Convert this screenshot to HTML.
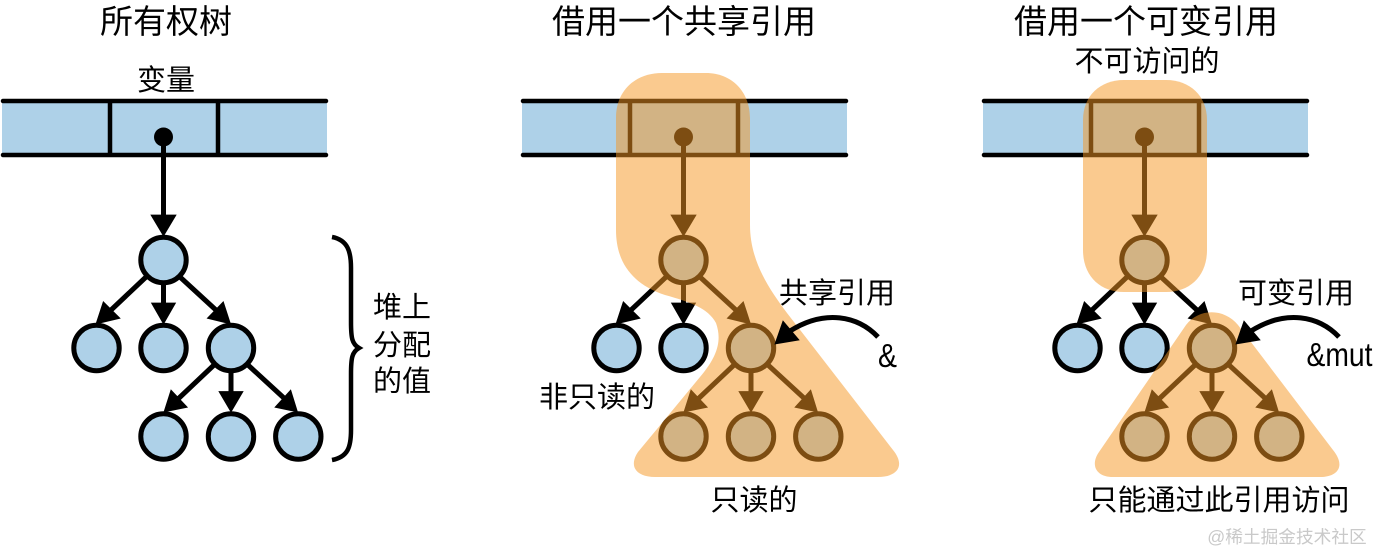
<!DOCTYPE html>
<html><head><meta charset="utf-8"><style>
html,body{margin:0;padding:0;background:#fff}
svg{display:block}
text{font-family:"Liberation Sans","Noto Sans CJK SC",sans-serif;fill:#000;text-anchor:middle}
.t{font-size:33px}.l{font-size:29px}
</style></head><body>
<svg width="1373" height="553" viewBox="0 0 1373 553" xmlns="http://www.w3.org/2000/svg">
<defs>
<g id="tree">
<rect x="2" y="101" width="325" height="54" fill="#aed1e8"/>
<g stroke="#000" stroke-width="4.5" stroke-linecap="round" fill="none">
<path d="M3 101H326M3 155H326"/>
<path d="M110 101V155M218 101V155" stroke-linecap="butt"/>
<path d="M163.500 137V218M146 277L110 311M163.500 283V306M180 277L217 311M214 365L178 399M231 371V394M248 365L285 399" stroke-linecap="butt" stroke-width="5"/>
</g>
<circle cx="163.500" cy="137" r="9.500" fill="#000"/>
<g fill="#000" stroke="#000" stroke-width="0.800" stroke-linejoin="miter">
<path d="M151 215H176L163.500 236Z"/>
<path d="M96 324L103.300 301.700L120 318.300Z"/>
<path d="M151.500 303H175.500L163.500 324Z"/>
<path d="M230.500 324L223.300 301.700L207.300 318.300Z"/>
<path d="M164 412L171 390L187.300 407.300Z"/>
<path d="M219 391.500H243L231 412Z"/>
<path d="M297.500 412L290.700 390L275 407.300Z"/>
</g>
<g fill="#aed1e8" stroke="#000" stroke-width="5">
<circle cx="163.500" cy="260" r="22.700"/>
<circle cx="96.500" cy="348" r="22.700"/>
<circle cx="163.500" cy="348" r="22.700"/>
<circle cx="231" cy="348" r="22.700"/>
<circle cx="163.500" cy="436.500" r="22.700"/>
<circle cx="231" cy="436.500" r="22.700"/>
<circle cx="298.300" cy="436.500" r="22.700"/>
</g>
</g>
</defs>

<use href="#tree"/>
<use href="#tree" x="520"/>
<use href="#tree" x="981"/>

<!-- highlight panel 2 -->
<path fill="#f59723" fill-opacity=".51" d="M616 118C616 90 636 73 662 73H706C732 73 750 92 750 118V225C750 262 770 290 787 313L893 450C906 466 897 477 878 477H655C637 477 628 467 638 452L700 377C718 356 722 340 716 323C708 308 690 302 665 295C635 285 616 265 616 230Z"/>
<!-- highlight panel 3 -->
<path fill="#f59723" fill-opacity=".51" d="M1083 120C1083 96 1100 80 1124 80H1166C1190 80 1207 96 1207 120V250C1207 276 1190 292 1166 292H1124C1100 292 1083 276 1083 250Z"/>
<path fill="#f59723" fill-opacity=".51" d="M1186 325C1199 308 1224 308 1238 325L1333 450C1346 466 1338 477 1320 477H1113C1096 477 1090 465 1099 452Z"/>

<!-- brace -->
<path d="M332 237C348 240 351 252 351 268V322C351 338 352 344 359 348C352 352 351 358 351 374V430C351 447 348 457 332 460" fill="none" stroke="#000" stroke-width="4.500"/>

<!-- curved arrows -->
<g fill="none" stroke="#000" stroke-width="5">
<path d="M878 337C858 316 825 309 790 331"/>
<path d="M1339 337C1319 316 1286 309 1251 331"/>
</g>
<path d="M775 344L783 321L799 340Z" fill="#000" stroke="#000" stroke-width="0.800"/>
<path d="M1236 344L1244 321L1260 340Z" fill="#000" stroke="#000" stroke-width="0.800"/>

<text class="t" x="166" y="33">所有权树</text>
<text class="t" x="684" y="33">借用一个共享引用</text>
<text class="t" x="1146" y="33">借用一个可变引用</text>
<text class="l" x="166" y="90">变量</text>
<text class="l" x="1147" y="71">不可访问的</text>
<text class="l" x="402" y="317">堆上</text>
<text class="l" x="402" y="355">分配</text>
<text class="l" x="402" y="391">的值</text>
<text class="l" x="837" y="303">共享引用</text>
<text class="l" x="1296" y="303">可变引用</text>
<text x="887.500" y="367" style="font-size:33px" textLength="19" lengthAdjust="spacingAndGlyphs">&amp;</text>
<text x="1339.500" y="366" style="font-size:33px" textLength="66" lengthAdjust="spacingAndGlyphs">&amp;mut</text>
<text class="l" x="597" y="407">非只读的</text>
<text class="l" x="754" y="510">只读的</text>
<text class="l" x="1219" y="510">只能通过此引用访问</text>
<text x="1287" y="543" style="font-size:17.700px;fill:#c9c9c9">@稀土掘金技术社区</text>
</svg>
</body></html>
